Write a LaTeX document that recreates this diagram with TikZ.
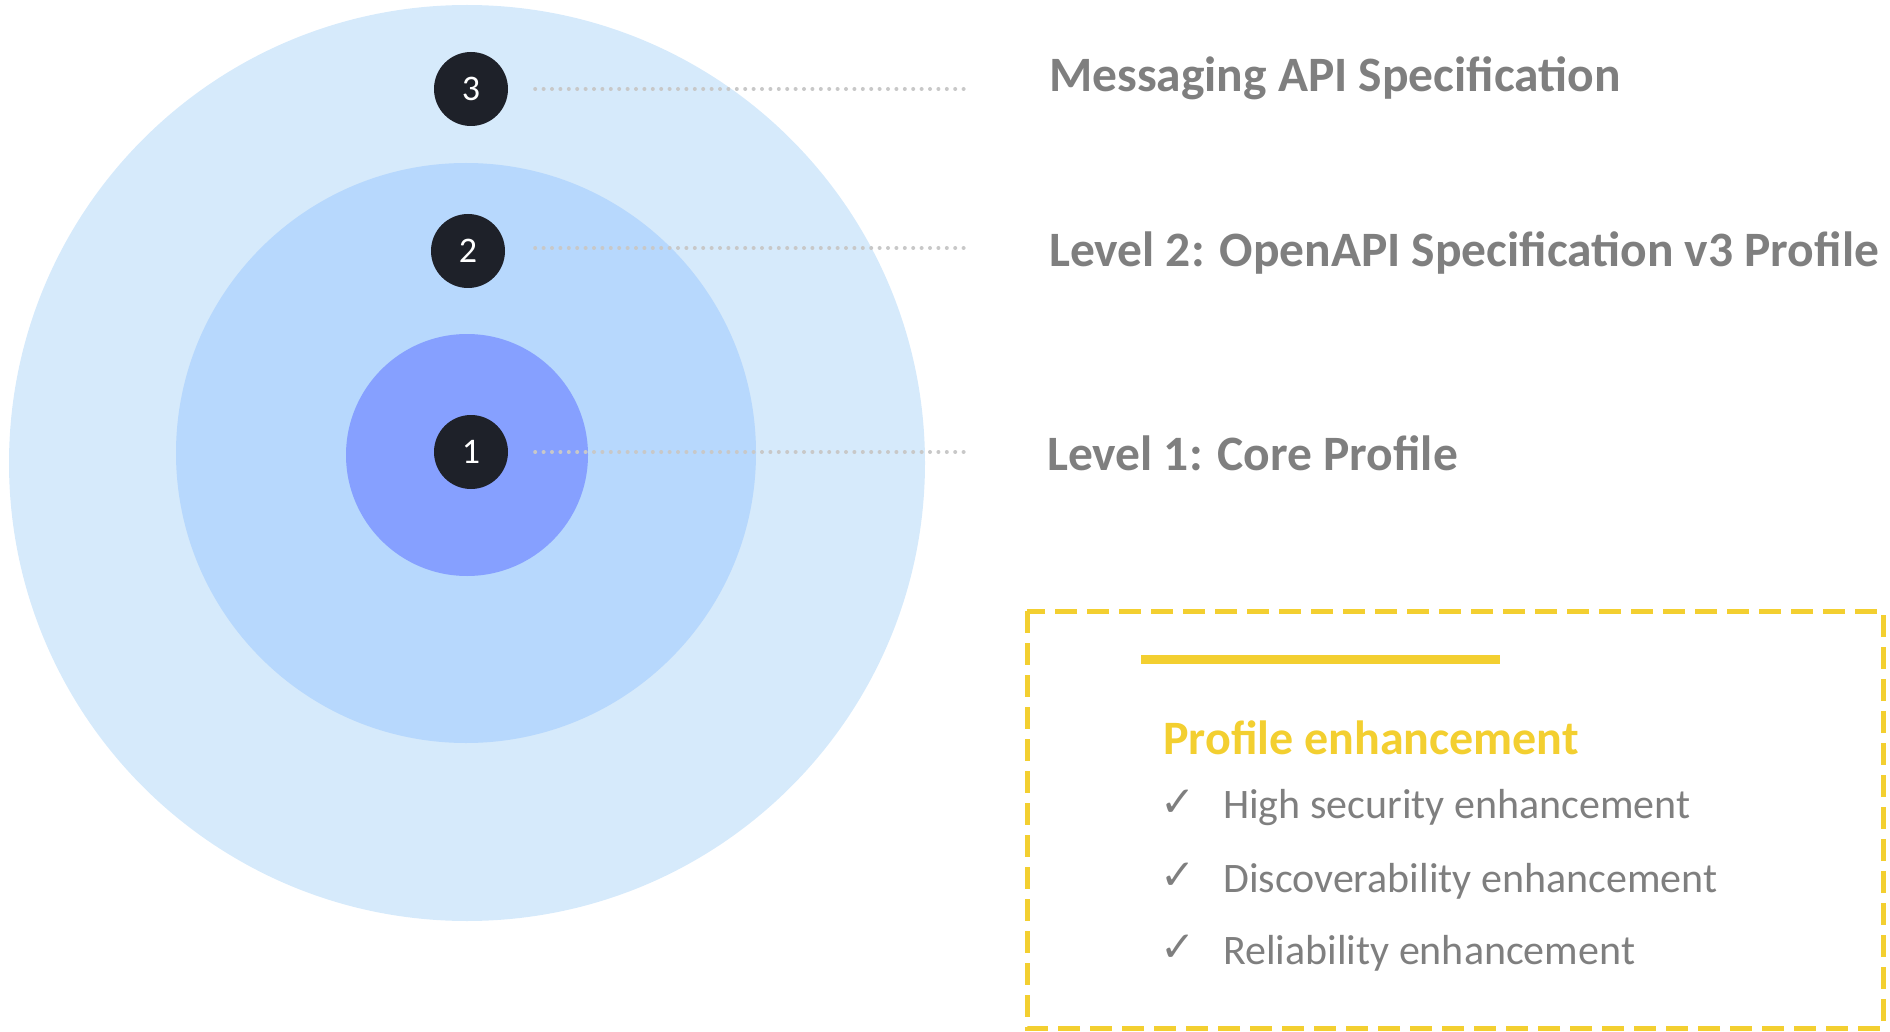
\documentclass[tikz,border=0pt]{standalone}
\usepackage{fontspec}
\setmainfont{Carlito}
\newfontfamily\symfont{DejaVu Sans}
\definecolor{ringout}{HTML}{D6EAFB}
\definecolor{ringmid}{HTML}{B7D8FD}
\definecolor{ringin}{HTML}{86A0FF}
\definecolor{badgebg}{HTML}{1E2129}
\definecolor{labelgray}{HTML}{7F7F7F}
\definecolor{dotgray}{HTML}{C8C8C8}
\definecolor{accent}{HTML}{F3CF30}
\tikzset{
  badge/.style={circle, fill=badgebg, minimum size=74pt, inner sep=0pt,
    text=white, font=\fontsize{36}{40}\selectfont},
  levellabel/.style={anchor=west, inner sep=0pt, text=labelgray,
    font=\bfseries\fontsize{49.5}{56}\selectfont},
  dotline/.style={dotgray, line width=4pt, line cap=round,
    dash pattern=on 0pt off 8.4pt},
  itemtext/.style={anchor=west, inner sep=0pt, text=labelgray,
    font=\fontsize{42}{48}\selectfont},
  checkmark/.style={anchor=west, inner sep=0pt, text=labelgray,
    font=\symfont\fontsize{42}{46}\selectfont},
}
\begin{document}
\begin{tikzpicture}[x=1pt, y=-1pt]
\useasboundingbox (0,0) rectangle (1890,1032);
% nested profile rings
\fill[ringout] (467,463) circle (458);
\fill[ringmid] (466,453) circle (290);
\fill[ringin] (467,455) circle (121);
% level badges
\node[badge] (b3) at (471,89) {3};
\node[badge] (b2) at (468,251) {2};
\node[badge] (b1) at (471,452) {1};
% leader line ends
\coordinate (e3) at (967,89);
\coordinate (e2) at (967,248);
\coordinate (e1) at (967,452);
\draw[dotline] ([xshift=27pt]b3.east) -- (e3);
\draw[dotline] ([xshift=30pt]b2.east |- e2) -- (e2);
\draw[dotline] ([xshift=27pt]b1.east) -- (e1);
% level labels
\node[levellabel] (t3) at (1049,78) {Messaging API Specification};
\node[levellabel] (t2) at (1049,253) {Level 2: OpenAPI Specification v3 Profile};
\node[levellabel] (t1) at (1047,453) {Level 1: Core Profile};
% enhancement panel
\draw[accent, line width=5pt, dash pattern=on 22pt off 10pt] (1027,611) rectangle (1883,1028);
\fill[accent] (1141,655) rectangle (1500,664);
\node[anchor=west, inner sep=0pt, text=accent, font=\bfseries\fontsize{48}{54}\selectfont] (ph) at (1163,738) {Profile enhancement};
\node[checkmark] (c1) at (1160,803) {✓};
\node[checkmark] (c2) at (1160,876) {✓};
\node[checkmark] (c3) at (1160,948) {✓};
\node[itemtext] (i1) at (1223,808) {High security enhancement};
\node[itemtext] (i2) at (1223,881) {Discoverability enhancement};
\node[itemtext] (i3) at (1223,953) {Reliability enhancement};
\end{tikzpicture}
\end{document}
